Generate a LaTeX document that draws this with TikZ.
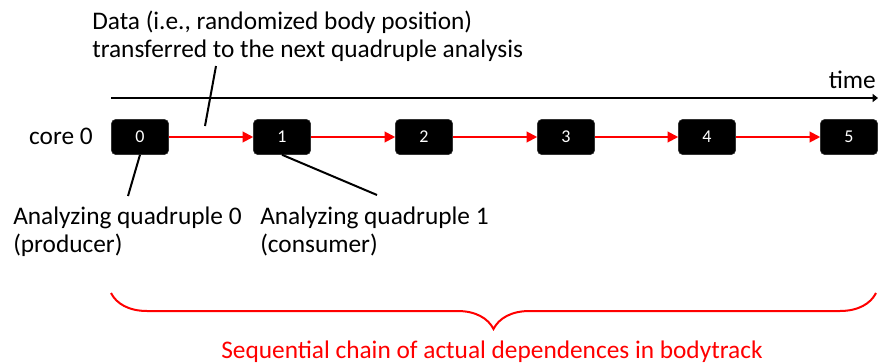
\documentclass[tikz,border=0pt]{standalone}
\usepackage{fontspec}
\setmainfont{Carlito}
\usetikzlibrary{arrows.meta}
\usetikzlibrary{decorations.pathreplacing}

\begin{document}
\begin{tikzpicture}[x=0.75pt,y=-0.75pt,
		tache/.style={draw=black!80,fill=black,rounded corners=3pt,minimum width=42.75pt,minimum height=26.25pt,inner sep=0pt,text=white,font=\fontsize{13.5}{15}\selectfont},
		lien/.style={draw=red,line width=1.5pt,-{Triangle[length=8pt,width=8pt]}},
		texte/.style={inner sep=0pt,font=\fontsize{19}{21}\selectfont,align=left}]
				\useasboundingbox (0,0) rectangle (878,364);
				% Axe du temps
				\coordinate (t0) at (111,98);
				\coordinate (t1) at (878,98);
				\draw [line width=2pt,-{Triangle[length=4pt,width=6pt]}] (t0) -- (t1);
				\node [texte,anchor=base east] (temps) at (876,88) {time};
				% Tâches
				\node [texte,anchor=base east] (core) at (93,144) {core 0};
				\node [tache] (b0) at (140,137) {0};
				\node [tache] (b1) at (282,137) {1};
				\node [tache] (b2) at (424,137) {2};
				\node [tache] (b3) at (566,137) {3};
				\node [tache] (b4) at (707,137) {4};
				\node [tache] (b5) at (849,137) {5};
				% Flèches
				\draw [lien] (b0) -- (b1);
				\draw [lien] (b1) -- (b2);
				\draw [lien] (b2) -- (b3);
				\draw [lien] (b3) -- (b4);
				\draw [lien] (b4) -- (b5);
				% Textes
				\node [texte,anchor=base west] (data) at (92,57) {Data (i.e., randomized body position)\\transferred to the next quadruple analysis};
				\node [texte,anchor=base west] (q0) at (13,252.5) {Analyzing quadruple 0\\(producer)};
				\node [texte,anchor=base west] (q1) at (260,252.5) {Analyzing quadruple 1\\(consumer)};
				\coordinate (d0) at (216,66);
				\coordinate (d1) at (205,126);
				\coordinate (p0) at (128,196);
				\coordinate (p1) at (377,195);
				\draw [line width=1.5pt] (d0) -- (d1);
				\draw [line width=1.5pt] (b0.south) -- (p0);
				\draw [line width=1.5pt] (b1.south) -- (p1);
				% Accolade
				\coordinate (a0) at (111,293);
				\coordinate (a1) at (876,293);
				\draw [red,line width=1.5pt,decorate,decoration={brace,mirror,amplitude=27pt}] (a0) -- (a1);
				\node [texte,text=red,anchor=base] (chaine) at (492,358) {Sequential chain of actual dependences in bodytrack};
				\end{tikzpicture}
\end{document}
